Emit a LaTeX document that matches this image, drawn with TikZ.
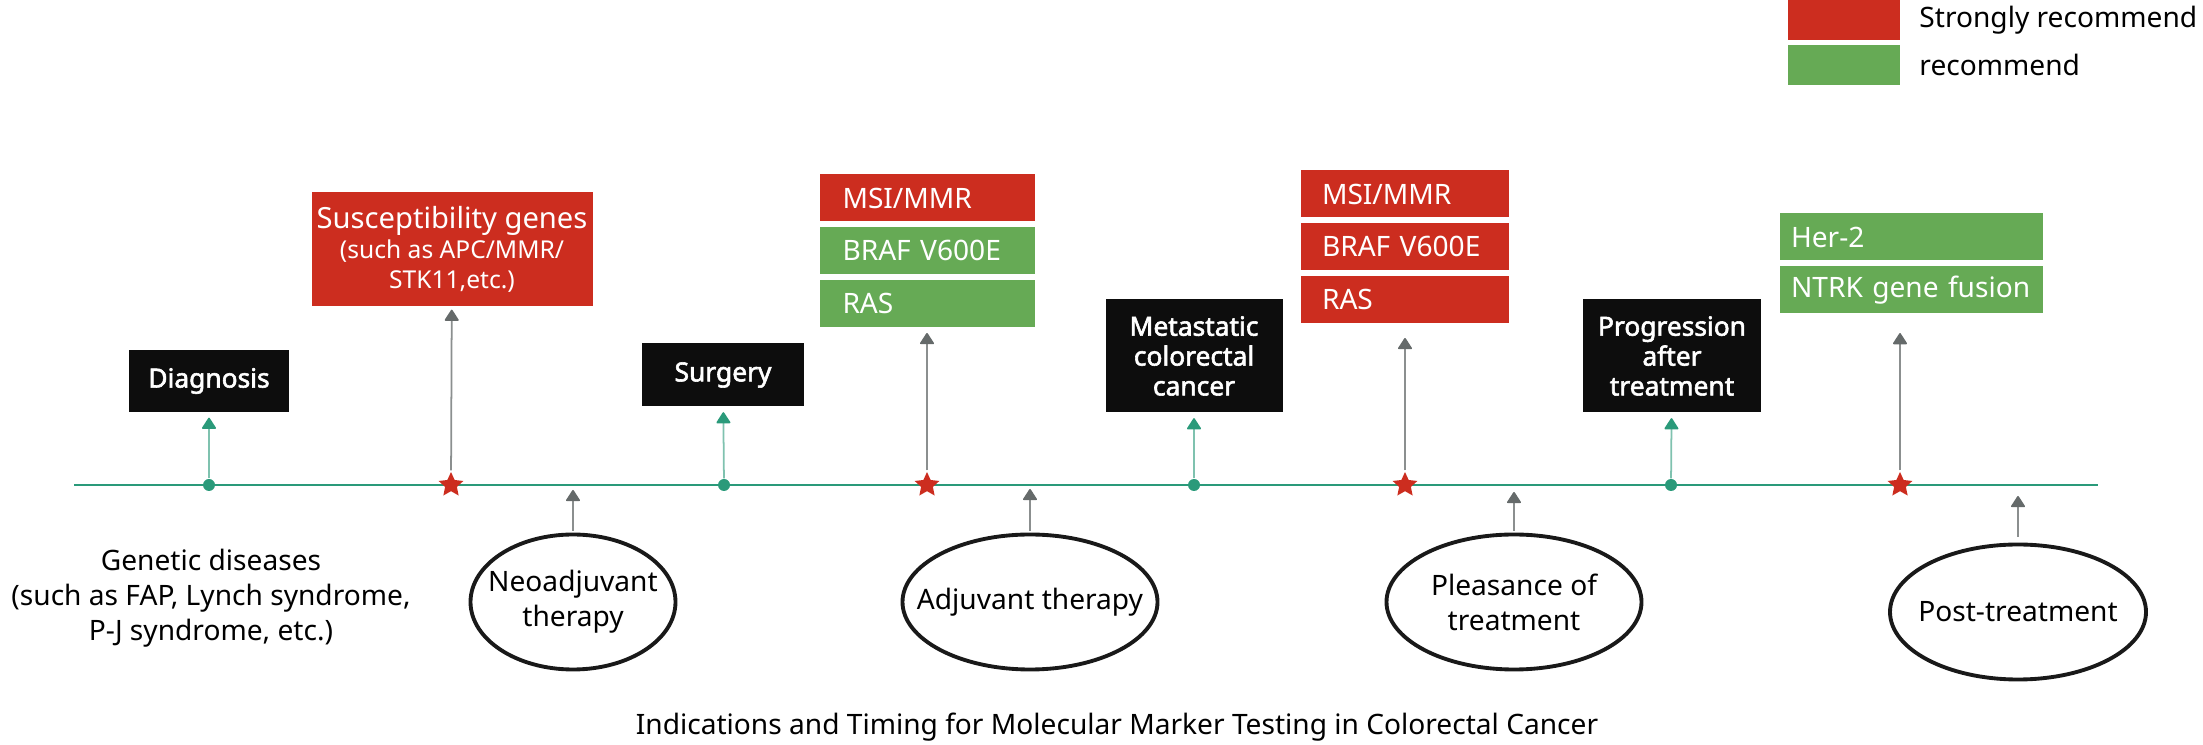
\documentclass[tikz,border=0pt]{standalone}
\usepackage{fontspec}
\setmainfont{Noto Sans}[AutoFakeBold=2.2]
\usetikzlibrary{positioning,shapes.geometric,arrows.meta}

\definecolor{recred}{HTML}{CC2D1F}
\definecolor{recgreen}{HTML}{66AA55}
\definecolor{lineteal}{HTML}{2A9A7A}
\definecolor{arrowgray}{HTML}{656A6A}

\newcommand{\labfont}{\fontsize{8pt}{10pt}\selectfont}
\newcommand{\stagefont}{\fontsize{7.5pt}{8.5pt}\selectfont\bfseries}

\begin{document}
\begin{tikzpicture}[x=0.1mm, y=-0.1mm,
    blacknode/.style={fill=black!95, text=white, font=\stagefont, align=center, inner sep=0pt},
    genenode/.style={text=white, font=\labfont, align=left, minimum height=4.7mm, inner ysep=0pt},
    phasenode/.style={ellipse, draw=black!90, line width=1.1pt, minimum height=13.5mm, inner sep=0pt},
    phasetext/.style={font=\labfont, align=center},
    tdot/.style={circle, fill=lineteal, minimum size=1.2mm, inner sep=0pt},
    rstar/.style={star, star points=5, star point ratio=2.1, fill=recred, minimum size=2.6mm, inner sep=0pt},
    greenarrow/.style={-{Triangle[width=1.5mm,length=1.2mm,round,color=lineteal]}, draw=lineteal!60, line width=0.5pt},
    grayarrow/.style={-{Triangle[width=1.5mm,length=1.2mm,round,color=arrowgray]}, draw=arrowgray!75, line width=0.5pt},]
    \useasboundingbox (0,0) rectangle (2203,745);
    % legend
    \node[fill=recred, minimum width=11.2mm, minimum height=4mm, inner sep=0pt] (legS) at (1844,20) {};
    \node[fill=recgreen, minimum width=11.2mm, minimum height=4mm, inner sep=0pt] (legR) [below=0.4mm of legS] {};
    \node[font=\labfont, anchor=west, inner sep=0pt] (legStext) [right=1.8mm of legS] {Strongly recommend};
    \node[font=\labfont, anchor=west, inner sep=0pt] (legRtext) [right=1.8mm of legR] {recommend};
    % time line
    \coordinate (axStart) at (74,485);
    \coordinate (axEnd)   at (2098,485);
    \draw[lineteal, line width=0.28mm] (axStart) -- (axEnd);
    \node[tdot]  (d1) at (209,485)  {};
    \node[rstar] (s1) at (451,485)  {};
    \node[tdot]  (d2) at (724,485)  {};
    \node[rstar] (s2) at (927,485)  {};
    \node[tdot]  (d3) at (1194,485) {};
    \node[rstar] (s3) at (1405,485) {};
    \node[tdot]  (d4) at (1671,485) {};
    \node[rstar] (s4) at (1900,485) {};
    % stages
    \node[blacknode, minimum width=16mm,   minimum height=6.2mm]  (diag) at (209,381)  {Diagnosis};
    \node[blacknode, minimum width=16.2mm, minimum height=6.3mm]  (surg) at (723,375)  {Surgery};
    \node[blacknode, minimum width=17.7mm, minimum height=11.3mm] (meta) at (1194,356) {Metastatic\\colorectal\\cancer};
    \node[blacknode, minimum width=17.8mm, minimum height=11.3mm] (prog) at (1672,356) {Progression\\after\\treatment};
    % markers
    \node[fill=recred, text=white, align=center, font=\fontsize{7pt}{8.5pt}\selectfont, minimum width=28.1mm, minimum height=11.4mm, inner sep=0pt] (susc) at (452,249)
        {{\fontsize{8.3pt}{8.5pt}\selectfont Susceptibility genes}\\(such as APC/MMR/\\STK11,etc.)};
    \node[genenode, fill=recred,   text width=16.9mm, inner xsep=2.3mm] (adjMSI) at (927,198) {MSI/MMR};
    \node[genenode, fill=recgreen, text width=16.9mm, inner xsep=2.3mm] (adjBRAF) [below=0.45mm of adjMSI]  {BRAF V600E};
    \node[genenode, fill=recgreen, text width=16.9mm, inner xsep=2.3mm] (adjRAS)  [below=0.45mm of adjBRAF] {RAS};
    \node[genenode, fill=recred, text width=16.6mm, inner xsep=2.1mm] (metMSI) at (1405,194) {MSI/MMR};
    \node[genenode, fill=recred, text width=16.6mm, inner xsep=2.1mm] (metBRAF) [below=0.45mm of metMSI]  {BRAF V600E};
    \node[genenode, fill=recred, text width=16.6mm, inner xsep=2.1mm] (metRAS)  [below=0.45mm of metBRAF] {RAS};
    \node[genenode, fill=recgreen, text width=24mm, inner xsep=1.15mm] (her) at (1911,237) {Her-2};
    \node[genenode, fill=recgreen, text width=24mm, inner xsep=1.15mm] (ntrk) [below=0.45mm of her] {NTRK gene fusion};
    % phases
    \node[phasenode, minimum width=20.5mm, label={[phasetext]center:Neoadjuvant\\therapy}] (neo)  at (573,602)  {};
    \node[phasenode, minimum width=25.5mm, label={[phasetext]center:Adjuvant therapy}]     (adj)  at (1030,602) {};
    \node[phasenode, minimum width=25.5mm, label={[phasetext]center:Pleasance of\\treatment}] (plea) at (1514,602) {};
    \node[phasenode, minimum width=25.6mm, label={[phasetext]center:Post-treatment}]       (post) at (2018,612) {};
    \coordinate (neoT)  at (573,490);
    \coordinate (adjT)  at (1030,489);
    \coordinate (pleaT) at (1514,492);
    \coordinate (postT) at (2018,496);
    % texts
    \node[font=\labfont, align=center] (genetic) at (211,598) {Genetic diseases\\(such as FAP, Lynch syndrome,\\P-J syndrome, etc.)};
    \node[font=\labfont] (caption) at (1117,727) {Indications and Timing for Molecular Marker Testing in Colorectal Cancer};
    % arrows
    \draw[greenarrow, shorten >=0.5mm] (d1) -- (diag);
    \draw[greenarrow, shorten >=0.5mm] (d2) -- (surg);
    \draw[greenarrow, shorten >=0.5mm] (d3) -- (meta);
    \draw[greenarrow, shorten >=0.5mm] (d4) -- (prog);
    \draw[grayarrow, shorten >=0.3mm] (s1) -- (susc);
    \draw[grayarrow, shorten >=0.5mm] (s2) -- (adjRAS);
    \draw[grayarrow, shorten >=1.4mm] (s3) -- (metRAS);
    \draw[grayarrow, shorten >=1.9mm] (s4) -- (s4 |- ntrk.south);
    \draw[grayarrow, shorten <=0.2mm] (neo.north)  -- (neoT);
    \draw[grayarrow, shorten <=0.2mm] (adj.north)  -- (adjT);
    \draw[grayarrow, shorten <=0.2mm] (plea.north) -- (pleaT);
    \draw[grayarrow, shorten <=0.6mm] (post.north) -- (postT);
\end{tikzpicture}
\end{document}
